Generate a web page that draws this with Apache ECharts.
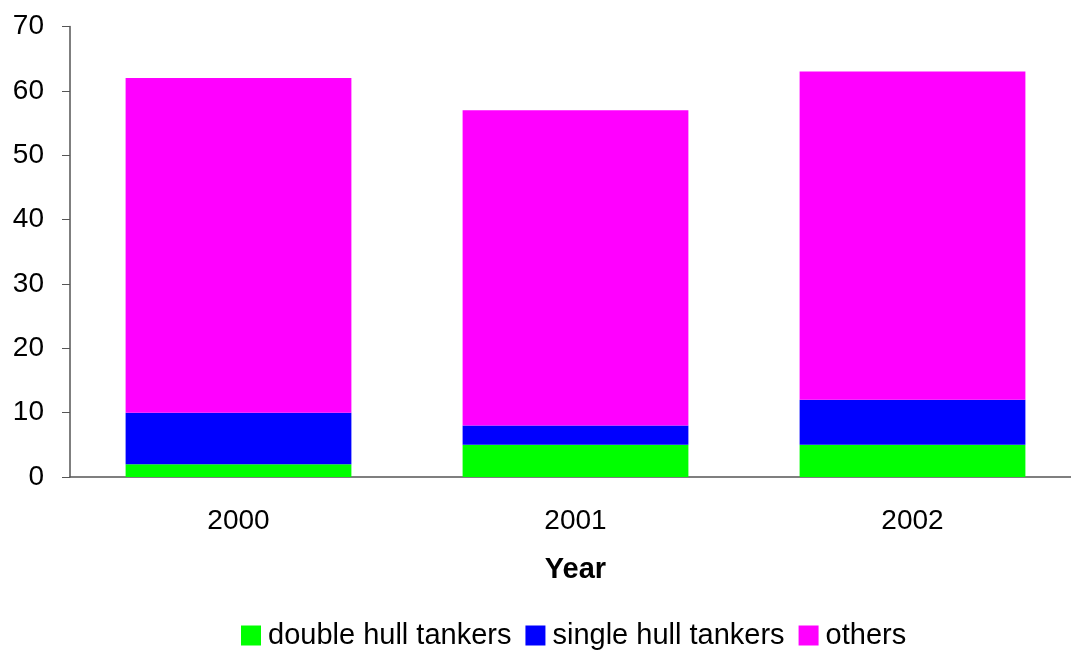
<!DOCTYPE html>
<html><head><meta charset="utf-8">
<script src="https://cdn.jsdelivr.net/npm/echarts@6/dist/echarts.min.js"></script>
<style>html,body{margin:0;padding:0;background:#fff}#c{width:1071px;height:651px}</style>
</head><body><div id="c"></div>
<script>
const categories = ['2000', '2001', '2002'];
const doubleHull = [2, 5, 5];
const singleHull = [8, 3, 7];
const others = [52, 49, 51];
const yTicks = [0, 10, 20, 30, 40, 50, 60, 70];

const chart = echarts.init(document.getElementById('c'));
const font = 'Liberation Sans, Arial, sans-serif';
function s(name, data, color) {
  return { name, type: 'bar', stack: 't', data, barCategoryGap: '33%',
    itemStyle: { color }, emphasis: { disabled: true } };
}
chart.setOption({
  animation: false,
  grid: { left: 70, width: 1011, top: 26.5, bottom: 174, outerBoundsMode: 'none', containLabel: false },
  legend: {
    top: 616, left: 236, itemWidth: 20, itemHeight: 20, itemGap: 14,
    icon: 'rect',
    textStyle: { fontFamily: font, fontSize: 29, color: '#000', padding: [0, 0, 0, 2] },
    data: ['double hull tankers', 'single hull tankers', 'others']
  },
  xAxis: {
    type: 'category', data: categories,
    name: 'Year', nameLocation: 'middle', nameGap: 78,
    nameTextStyle: { fontFamily: font, fontSize: 29, fontWeight: 'bold', color: '#000' },
    axisLine: { lineStyle: { color: '#555', width: 1.5 } },
    axisTick: { length: 8, lineStyle: { color: '#555' } },
    axisLabel: { fontFamily: font, fontSize: 28, color: '#000', margin: 30 }
  },
  yAxis: {
    type: 'value', min: 0, max: 70, interval: 10,
    axisLine: { show: true, lineStyle: { color: '#555', width: 1.5 } },
    axisTick: { show: true, length: 8, lineStyle: { color: '#555' } },
    splitLine: { show: false },
    axisLabel: { fontFamily: font, fontSize: 28, color: '#000', margin: 26,
      formatter: v => yTicks.includes(v) ? String(v) : '' }
  },
  series: [
    s('double hull tankers', doubleHull, '#00ff00'),
    s('single hull tankers', singleHull, '#0000ff'),
    s('others', others, '#ff00ff')
  ]
});
</script></body></html>
